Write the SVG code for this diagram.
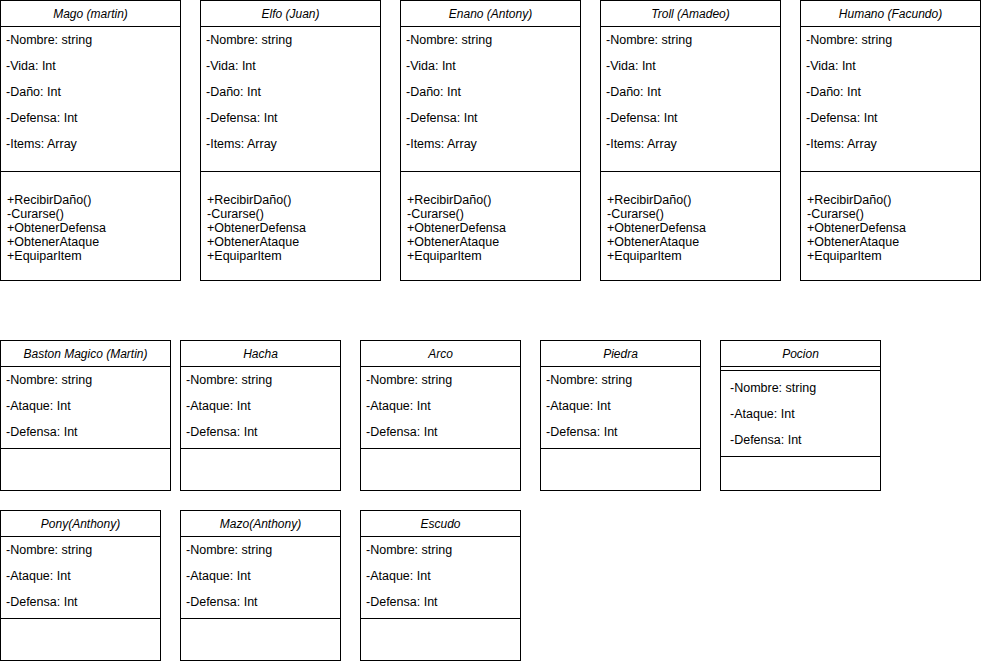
<svg xmlns="http://www.w3.org/2000/svg" width="981" height="661" viewBox="0 0 981 661">
<style>
rect{fill:#fff;stroke:#000;stroke-width:1}
line{stroke:#000;stroke-width:1}
text{font-family:"Liberation Sans",Arial,sans-serif;font-size:12.5px;fill:#000}
.t{font-style:italic;text-anchor:middle;font-size:12px}
</style>
<rect x="0" y="0" width="981" height="661" style="stroke:none"/>
<defs>
<g id="big">
<rect x="0.5" y="0.5" width="180" height="280"/>
<line x1="0.5" y1="26.5" x2="180.5" y2="26.5"/>
<line x1="0.5" y1="171.5" x2="180.5" y2="171.5"/>
<text x="6" y="44">-Nombre: string</text>
<text x="6" y="70">-Vida: Int</text>
<text x="6" y="96">-Daño: Int</text>
<text x="6" y="122">-Defensa: Int</text>
<text x="6" y="148">-Items: Array</text>
<text x="7" y="204">+RecibirDaño()</text>
<text x="7" y="218">-Curarse()</text>
<text x="7" y="232">+ObtenerDefensa</text>
<text x="7" y="246">+ObtenerAtaque</text>
<text x="7" y="260">+EquiparItem</text>
</g>
<g id="attrs">
<text x="6" y="44">-Nombre: string</text>
<text x="6" y="70">-Ataque: Int</text>
<text x="6" y="96">-Defensa: Int</text>
</g>
</defs>
<g id="mago"><use href="#big" x="0" y="0"/><text class="t" x="90.5" y="18">Mago (martin)</text></g>
<g id="elfo"><use href="#big" x="200" y="0"/><text class="t" x="290.5" y="18">Elfo (Juan)</text></g>
<g id="enano"><use href="#big" x="400" y="0"/><text class="t" x="490.5" y="18">Enano (Antony)</text></g>
<g id="troll"><use href="#big" x="600" y="0"/><text class="t" x="690.5" y="18">Troll (Amadeo)</text></g>
<g id="humano"><use href="#big" x="800" y="0"/><text class="t" x="890.5" y="18">Humano (Facundo)</text></g>

<g id="baston">
<rect x="0.5" y="340.5" width="170" height="150"/>
<line x1="0.5" y1="366.5" x2="170.5" y2="366.5"/>
<line x1="0.5" y1="448.5" x2="170.5" y2="448.5"/>
<text class="t" x="85.5" y="358">Baston Magico (Martin)</text>
<use href="#attrs" x="0" y="340"/>
</g>
<g id="hacha">
<rect x="180.5" y="340.5" width="160" height="150"/>
<line x1="180.5" y1="366.5" x2="340.5" y2="366.5"/>
<line x1="180.5" y1="448.5" x2="340.5" y2="448.5"/>
<text class="t" x="260.5" y="358">Hacha</text>
<use href="#attrs" x="180" y="340"/>
</g>
<g id="arco">
<rect x="360.5" y="340.5" width="160" height="150"/>
<line x1="360.5" y1="366.5" x2="520.5" y2="366.5"/>
<line x1="360.5" y1="448.5" x2="520.5" y2="448.5"/>
<text class="t" x="440.5" y="358">Arco</text>
<use href="#attrs" x="360" y="340"/>
</g>
<g id="piedra">
<rect x="540.5" y="340.5" width="160" height="150"/>
<line x1="540.5" y1="366.5" x2="700.5" y2="366.5"/>
<line x1="540.5" y1="448.5" x2="700.5" y2="448.5"/>
<text class="t" x="620.5" y="358">Piedra</text>
<use href="#attrs" x="540" y="340"/>
</g>
<g id="pocion">
<rect x="720.5" y="340.5" width="160" height="150"/>
<line x1="720.5" y1="366.5" x2="880.5" y2="366.5"/>
<line x1="720.5" y1="370.5" x2="880.5" y2="370.5"/>
<line x1="720.5" y1="456.5" x2="880.5" y2="456.5"/>
<text class="t" x="800.5" y="358">Pocion</text>
<use href="#attrs" x="724" y="348"/>
</g>

<g id="pony">
<rect x="0.5" y="510.5" width="160" height="150"/>
<line x1="0.5" y1="536.5" x2="160.5" y2="536.5"/>
<line x1="0.5" y1="618.5" x2="160.5" y2="618.5"/>
<text class="t" x="80.5" y="528">Pony(Anthony)</text>
<use href="#attrs" x="0" y="510"/>
</g>
<g id="mazo">
<rect x="180.5" y="510.5" width="160" height="150"/>
<line x1="180.5" y1="536.5" x2="340.5" y2="536.5"/>
<line x1="180.5" y1="618.5" x2="340.5" y2="618.5"/>
<text class="t" x="260.5" y="528">Mazo(Anthony)</text>
<use href="#attrs" x="180" y="510"/>
</g>
<g id="escudo">
<rect x="360.5" y="510.5" width="160" height="150"/>
<line x1="360.5" y1="536.5" x2="520.5" y2="536.5"/>
<line x1="360.5" y1="618.5" x2="520.5" y2="618.5"/>
<text class="t" x="440.5" y="528">Escudo</text>
<use href="#attrs" x="360" y="510"/>
</g>
<g id="connectors"></g>
</svg>
